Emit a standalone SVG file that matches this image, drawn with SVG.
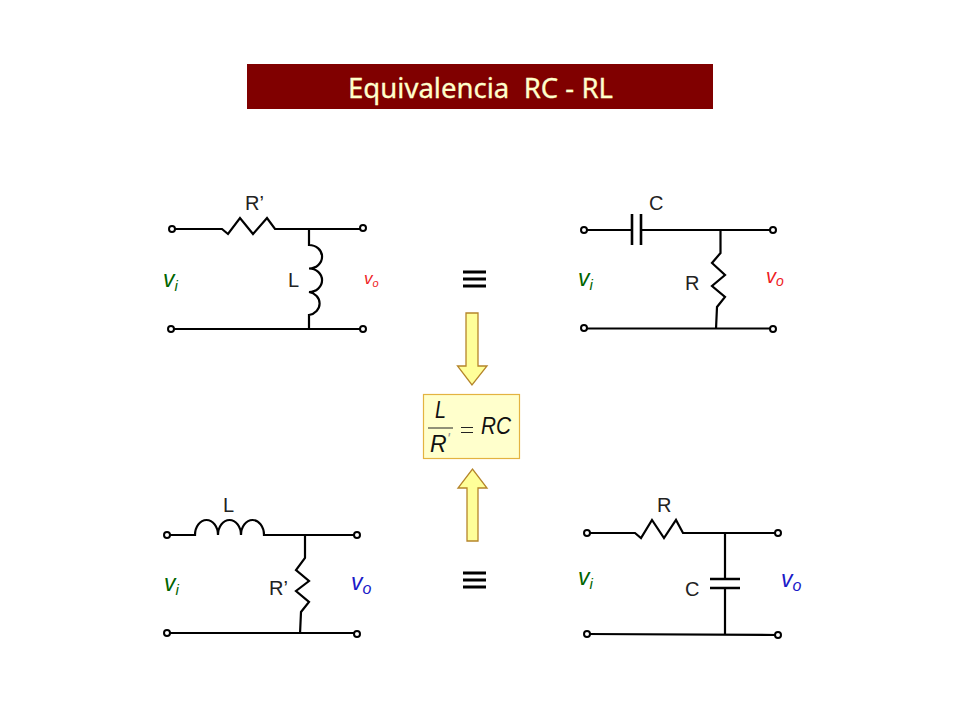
<svg xmlns="http://www.w3.org/2000/svg" width="960" height="720" viewBox="0 0 960 720">
<style>
.w{fill:none;stroke:#000;stroke-width:2.2;stroke-linejoin:miter}
.t{fill:#fff;stroke:#000;stroke-width:2}
.p{fill:none;stroke:#000;stroke-width:2.6}
.l{font-family:"Liberation Sans",Arial,sans-serif;font-size:20px;fill:#222}
.v{font-family:"Liberation Sans",Arial,sans-serif;font-style:italic}
.g{fill:#006400}.r{fill:#ee1c25}.b{fill:#1a1ac8}
.a{fill:#ffff99;stroke:#b5852a;stroke-width:1.3}
.e{stroke:#000;stroke-width:3}
.f{font-family:"Liberation Sans",Arial,sans-serif;font-style:italic;fill:#111}
</style>
<rect width="960" height="720" fill="#fff"/>
<g id="title">
<rect x="247" y="64" width="466" height="45" fill="#800000"/>
<text x="348" y="98" font-family="Noto Sans,Open Sans,sans-serif" font-size="27" fill="#ffffcc" stroke="#ffffcc" stroke-width="0.3" textLength="265" lengthAdjust="spacingAndGlyphs" style="white-space:pre">Equivalencia  RC - RL</text>
</g>
<g id="connectors">
<path class="w" d="M172 229H222L228 234L240 218L253 234L267 218L275 229H363"/>
<path class="w" d="M171 329H363"/>
<path class="w" d="M309 229V245A13 11.700 0 0 1 309 268.500A13 11.700 0 0 1 309 292A13 11.700 0 0 1 309 315V329"/>
<path class="w" d="M584 230H632M641 230H773M584 328.500H773"/>
<path class="w" d="M720.500 230V253L712 263L725 275L712 286L725 297L717 307L716 329"/>
<path class="w" d="M167 535H195A11.500 15 0 0 1 218 535A11.500 15 0 0 1 241 535A11.500 15 0 0 1 264 535H357M167 633H357"/>
<path class="w" d="M305 535V558L296 570L309 581L296 591L309 602L301 612L300 634"/>
<path class="w" d="M587 533H635L641 538L652 520L664 538L676 520L683 533H778M587 634L778 635"/>
<path class="w" d="M725 533V579M725 588V634"/>
</g>
<g id="cap-series"><path class="p" d="M632 214V245M641 214V245"/></g>
<g id="cap-shunt"><path class="p" d="M710 579H740M710 588H740"/></g>
<g id="terminals">
<circle class="t" cx="172" cy="229" r="3"/><circle class="t" cx="363" cy="228" r="3"/><circle class="t" cx="171" cy="329" r="3"/><circle class="t" cx="363" cy="329" r="3"/>
<circle class="t" cx="584" cy="230" r="3"/><circle class="t" cx="773" cy="230" r="3"/><circle class="t" cx="584" cy="328" r="3"/><circle class="t" cx="773" cy="329" r="3"/>
<circle class="t" cx="167" cy="535" r="3"/><circle class="t" cx="357" cy="535" r="3"/><circle class="t" cx="167" cy="633" r="3"/><circle class="t" cx="357" cy="634" r="3"/>
<circle class="t" cx="587" cy="533" r="3"/><circle class="t" cx="778" cy="533" r="3"/><circle class="t" cx="587" cy="634" r="3"/><circle class="t" cx="778" cy="635" r="3"/>
</g>
<g id="labels-top-left">
<text class="l" x="245" y="210">R’</text><text class="l" x="288" y="287">L</text>
<text class="v g" x="163" y="287" font-size="23">v<tspan font-size="15" dy="4">i</tspan></text>
<text class="v r" x="364" y="284" font-size="17">v<tspan font-size="11" dy="3">o</tspan></text>
</g>
<g id="labels-top-right">
<text class="l" x="649" y="210">C</text><text class="l" x="685" y="290">R</text>
<text class="v g" x="578" y="286" font-size="23">v<tspan font-size="15" dy="4">i</tspan></text>
<text class="v r" x="766" y="283" font-size="20">v<tspan font-size="14" dy="3">o</tspan></text>
</g>
<g id="labels-bottom-left">
<text class="l" x="223" y="512">L</text><text class="l" x="269" y="595">R’</text>
<text class="v g" x="164" y="591" font-size="23">v<tspan font-size="15" dy="4">i</tspan></text>
<text class="v b" x="351" y="590" font-size="23">v<tspan font-size="16" dy="4">o</tspan></text>
</g>
<g id="labels-bottom-right">
<text class="l" x="657" y="512">R</text><text class="l" x="685" y="596">C</text>
<text class="v g" x="578" y="585" font-size="23">v<tspan font-size="15" dy="4">i</tspan></text>
<text class="v b" x="781" y="587" font-size="23">v<tspan font-size="16" dy="4">o</tspan></text>
</g>
<g id="equiv-top"><path class="e" d="M463 272H486M463 279H486M463 286H486"/></g>
<g id="equiv-bottom"><path class="e" d="M463 573H486M463 580H486M463 587H486"/></g>
<g id="arrow-down"><path class="a" d="M466 313H478V366H487L472 385L457.500 366H466Z"/></g>
<g id="arrow-up"><path class="a" d="M467 541H478V488H487L472.500 469L458 488H467Z"/></g>
<g id="formula">
<rect x="423.500" y="394.500" width="96" height="64" fill="#ffffcc" stroke="#e3b341" stroke-width="1.2"/>
<text class="f" x="435" y="418" font-size="23" textLength="11" lengthAdjust="spacingAndGlyphs">L</text>
<path d="M428 428H453" stroke="#222" stroke-width="1"/>
<text class="f" x="430" y="452" font-size="23">R<tspan fill="#999" font-size="16" dy="-7">'</tspan></text>
<path d="M461 427.500H473M461 432.500H473" stroke="#222" stroke-width="1"/>
<text class="f" x="481" y="434" font-size="24" textLength="30" lengthAdjust="spacingAndGlyphs">RC</text>
</g>
</svg>
